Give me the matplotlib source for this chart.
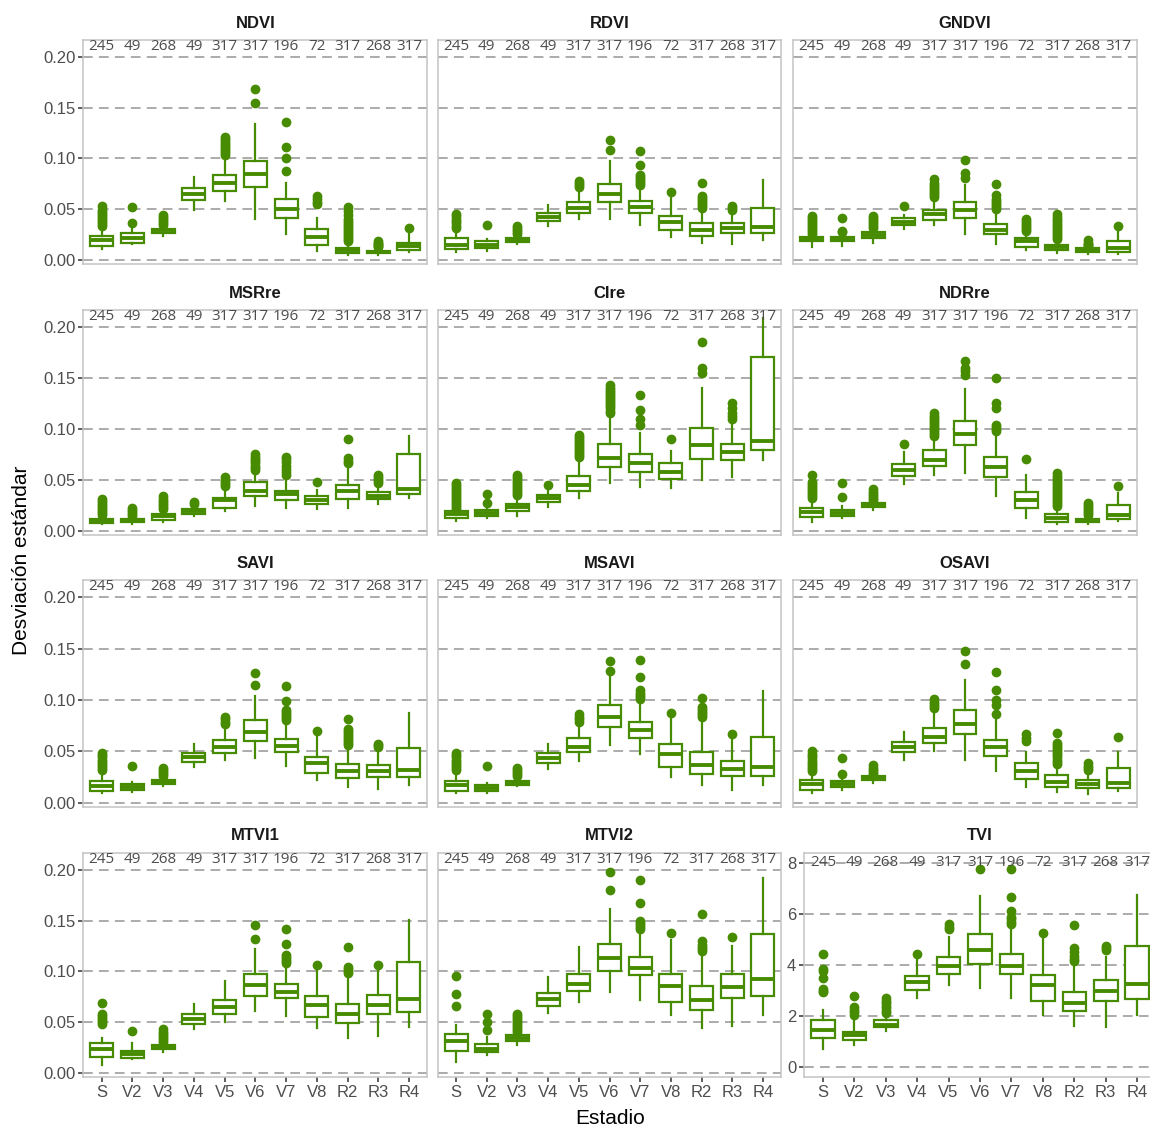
import matplotlib.pyplot as plt

plt.rcParams['font.family'] = ['Liberation Sans', 'DejaVu Sans']

#stages and number of observations per stage (same for every index)
estadios = ["S", "V2", "V3", "V4", "V5", "V6", "V7", "V8", "R2", "R3", "R4"]
n_obs = [245, 49, 268, 49, 317, 317, 196, 72, 317, 268, 317]

#box stats per stage: [whisker low, q1, median, q3, whisker high]
ndvi_box = [[.011, .014, .019, .023, .031], [.016, .017, .021, .026, .030], [.023, .026, .029, .030, .032],
            [.049, .059, .065, .071, .082], [.058, .068, .076, .084, .101], [.040, .072, .085, .097, .134],
            [.025, .041, .050, .060, .076], [.009, .015, .022, .030, .041], [.005, .007, .010, .012, .017],
            [.005, .007, .008, .009, .012], [.008, .010, .0135, .017, .025]]
ndvi_out = [[.033, .035, .037, .039, .041, .043, .045, .047, .049, .053], [.036, .052],
            [.034, .036, .038, .040, .042, .044], [],
            [.103, .105, .107, .109, .111, .113, .115, .117, .119, .121], [.155, .168],
            [.088, .100, .111, .136], [.055, .057, .060, .063],
            [.018, .020, .022, .024, .026, .028, .030, .032, .034, .036, .038, .040, .044, .048, .052],
            [.013, .014, .015, .016, .017, .018], [.031]]

rdvi_box = [[.008, .011, .015, .021, .029], [.009, .0115, .0145, .018, .020], [.016, .0175, .019, .021, .023],
            [.033, .038, .042, .046, .054], [.040, .046, .051, .057, .070], [.040, .057, .065, .075, .097],
            [.034, .046, .0525, .058, .072], [.022, .029, .037, .043, .061], [.017, .023, .029, .036, .049],
            [.016, .026, .031, .036, .047], [.019, .026, .032, .051, .079]]
rdvi_out = [[.031, .033, .036, .038, .040, .043, .045], [.034], [.025, .027, .029, .031, .033], [],
            [.072, .074, .076, .078], [.108, .118],
            [.074, .076, .078, .080, .082, .084, .093, .107], [.067],
            [.051, .053, .055, .057, .059, .061, .063, .076], [.049, .051, .053], []]

gndvi_box = [[.013, .018, .020, .022, .024], [.014, .018, .020, .022, .024], [.017, .021, .024, .027, .029],
             [.030, .034, .037, .041, .044], [.034, .039, .045, .049, .061], [.025, .041, .049, .057, .074],
             [.016, .025, .0295, .035, .047], [.010, .013, .018, .021, .026], [.007, .010, .0125, .015, .018],
             [.006, .008, .0098, .0115, .013], [.006, .008, .0115, .018, .028]]
gndvi_out = [[.025, .027, .029, .031, .033, .035, .037, .039, .041, .043], [.027, .028, .041],
             [.031, .033, .035, .037, .039, .041, .043], [.053],
             [.062, .064, .066, .068, .070, .072, .074, .076, .080], [.081, .086, .098],
             [.050, .052, .054, .056, .058, .060, .064, .075], [.028, .030, .032, .034, .036, .038, .040],
             [.020, .022, .024, .026, .028, .030, .032, .034, .036, .038, .040, .042, .045],
             [.014, .015, .016, .017, .019], [.033]]

msrre_box = [[.0066, .0076, .0095, .0116, .014], [.0066, .0083, .0099, .0116, .013], [.009, .011, .014, .016, .020],
             [.014, .016, .019, .0215, .024], [.019, .0225, .030, .0324, .041], [.024, .034, .039, .048, .058],
             [.0225, .030, .036, .039, .050], [.0215, .026, .030, .034, .040], [.0225, .031, .039, .045, .061],
             [.026, .031, .034, .038, .045], [.032, .036, .041, .075, .093]]
msrre_out = [[.015, .017, .019, .021, .023, .025, .027, .029, .031], [.014, .016, .018, .020, .022],
             [.021, .023, .025, .027, .029, .031, .034], [.026, .028], [.044, .046, .048, .050, .053],
             [.060, .062, .064, .066, .068, .070, .072, .075], [.055, .058, .061, .064, .067, .070, .072],
             [.048], [.066, .068, .071, .090], [.047, .049, .051, .053, .055], []]

cire_box = [[.010, .012, .016, .019, .020], [.012, .014, .017, .020, .022], [.014, .019, .023, .026, .033],
            [.023, .028, .032, .035, .040], [.032, .039, .045, .054, .069], [.047, .0625, .071, .085, .114],
            [.043, .058, .066, .075, .096], [.042, .051, .058, .066, .078], [.050, .070, .084, .101, .140],
            [.053, .069, .077, .085, .107], [.069, .079, .088, .171, .209]]
cire_out = [[.021, .023, .025, .027, .029, .031, .033, .035, .037, .039, .041, .043, .045, .047], [.027, .036],
            [.035, .037, .039, .041, .043, .045, .047, .049, .051, .053, .055], [.045],
            [.072, .074, .076, .078, .080, .082, .084, .086, .088, .090, .092, .094],
            [.116, .118, .120, .122, .124, .126, .128, .130, .132, .134, .136, .138, .140, .143],
            [.104, .110, .119, .133], [.090], [.155, .160, .185], [.110, .113, .116, .120, .125], []]

ndrre_box = [[.009, .013, .018, .022, .030], [.012, .014, .0175, .0205, .024], [.020, .023, .025, .027, .029],
             [.046, .054, .0595, .0655, .077], [.055, .064, .069, .079, .089], [.057, .084, .095, .108, .139],
             [.034, .053, .063, .072, .094], [.012, .022, .030, .038, .055], [.0066, .0086, .0126, .0165, .0225],
             [.0066, .0086, .010, .0116, .013], [.010, .0116, .015, .025, .037]]
ndrre_out = [[.032, .034, .036, .038, .040, .042, .044, .046, .048, .055], [.033, .047],
             [.030, .032, .034, .036, .038, .041], [.085],
             [.093, .095, .097, .099, .101, .103, .105, .107, .109, .111, .113, .116], [.153, .157, .160, .167],
             [.098, .100, .102, .104, .120, .125, .150], [.070],
             [.024, .026, .028, .030, .032, .034, .036, .038, .040, .042, .044, .046, .048, .050, .052, .054, .057],
             [.015, .017, .019, .021, .023, .025, .027], [.044]]

savi_box = [[.009, .0115, .0165, .021, .030], [.010, .012, .0155, .018, .020], [.016, .018, .020, .022, .025],
            [.035, .040, .044, .048, .057], [.042, .048, .054, .061, .074], [.043, .060, .0685, .080, .104],
            [.036, .049, .055, .062, .077], [.022, .029, .0385, .0445, .069], [.0155, .024, .031, .038, .053],
            [.013, .025, .031, .037, .052], [.0175, .025, .032, .053, .087]]
savi_out = [[.032, .034, .036, .038, .040, .042, .044, .046, .048], [.036], [.026, .028, .030, .032, .034], [],
            [.077, .079, .081, .083], [.115, .126], [.080, .082, .084, .086, .088, .090, .099, .114], [.070],
            [.056, .058, .060, .062, .064, .066, .068, .070, .072, .081], [.054, .056, .057], []]

msavi_box = [[.009, .0115, .017, .021, .029], [.009, .0115, .014, .017, .019], [.016, .0175, .0195, .021, .024],
             [.033, .0385, .043, .048, .057], [.041, .049, .054, .063, .076], [.056, .0735, .083, .0946, .125],
             [.047, .063, .071, .079, .0998], [.025, .035, .047, .057, .084], [.017, .028, .037, .049, .081],
             [.0125, .026, .033, .0405, .061], [.017, .026, .035, .064, .109]]
msavi_out = [[.032, .034, .036, .038, .040, .042, .044, .046, .048], [.036], [.026, .028, .030, .032, .034], [],
             [.079, .081, .083, .086], [.128, .138], [.101, .103, .105, .107, .110, .122, .139], [.087],
             [.083, .085, .087, .089, .091, .093, .102], [.067], []]

osavi_box = [[.009, .0125, .018, .022, .030], [.012, .015, .018, .021, .022], [.019, .022, .024, .0257, .027],
             [.042, .049, .054, .059, .069], [.050, .058, .064, .073, .089], [.042, .067, .077, .090, .119],
             [.031, .0455, .054, .061, .082], [.015, .023, .031, .0385, .049], [.0105, .015, .020, .027, .036],
             [.008, .014, .018, .022, .030], [.011, .014, .019, .034, .049]]
osavi_out = [[.031, .033, .035, .037, .039, .041, .043, .045, .047, .050], [.028, .043],
             [.028, .030, .032, .034, .037], [], [.092, .094, .096, .098, .101], [.135, .148],
             [.086, .095, .100, .110, .127], [.060, .063, .067],
             [.038, .040, .042, .044, .046, .048, .050, .052, .054, .056, .058, .068],
             [.032, .034, .036, .039], [.064]]

mtvi1_box = [[.008, .016, .023, .029, .0345], [.014, .015, .018, .021, .029], [.020, .023, .025, .027, .029],
             [.043, .048, .053, .058, .068], [.050, .058, .065, .072, .0905], [.061, .076, .0865, .097, .122],
             [.056, .074, .0796, .088, .107], [.044, .055, .067, .076, .100], [.0345, .049, .0576, .068, .0954],
             [.036, .058, .067, .077, .100], [.045, .060, .073, .109, .151]]
mtvi1_out = [[.048, .050, .052, .054, .056, .058, .069], [.041], [.030, .032, .034, .036, .038, .040, .043],
             [], [], [.132, .146], [.108, .110, .112, .114, .116, .127, .142], [.106],
             [.098, .100, .102, .104, .124], [.106], []]

mtvi2_box = [[.011, .021, .031, .038, .047], [.0175, .020, .0234, .028, .0356], [.027, .031, .034, .037, .039],
             [.059, .066, .073, .0785, .094], [.070, .081, .0875, .097, .124], [.080, .100, .113, .127, .161],
             [.072, .096, .103, .114, .140], [.057, .070, .086, .097, .131], [.044, .062, .072, .086, .118],
             [.046, .074, .085, .097, .125], [.057, .076, .092, .137, .192]]
mtvi2_out = [[.066, .078, .095], [.042, .050, .058], [.040, .042, .044, .046, .048, .050, .052, .054, .056, .058],
             [], [], [.180, .198], [.142, .144, .146, .148, .150, .167, .190], [.138],
             [.120, .122, .124, .126, .130, .157], [.134], []]

tvi_box = [[.72, 1.12, 1.47, 1.86, 2.25], [.88, 1.05, 1.24, 1.39, 1.8], [1.4, 1.57, 1.66, 1.85, 2.0],
           [2.7, 3.03, 3.32, 3.58, 4.2], [3.22, 3.65, 3.97, 4.33, 5.11], [3.1, 4.04, 4.59, 5.21, 6.7],
           [2.7, 3.65, 3.97, 4.43, 5.47], [2.05, 2.57, 3.22, 3.6, 5.0], [1.6, 2.18, 2.5, 2.96, 3.94],
           [1.57, 2.57, 3.0, 3.42, 4.33], [2.05, 2.68, 3.26, 4.76, 6.74]]
tvi_out = [[2.95, 3.0, 3.05, 3.5, 3.75, 3.85, 4.45], [2.05, 2.15, 2.25, 2.35, 2.8],
           [2.1, 2.2, 2.3, 2.4, 2.5, 2.6, 2.7], [4.42], [5.4, 5.5, 5.6], [7.75],
           [5.6, 5.7, 5.8, 5.9, 6.1, 6.65, 7.75], [5.27], [4.15, 4.25, 4.35, 4.5, 4.65, 5.55],
           [4.6, 4.65, 4.75], []]

panels = [("NDVI", ndvi_box, ndvi_out), ("RDVI", rdvi_box, rdvi_out), ("GNDVI", gndvi_box, gndvi_out),
          ("MSRre", msrre_box, msrre_out), ("CIre", cire_box, cire_out), ("NDRre", ndrre_box, ndrre_out),
          ("SAVI", savi_box, savi_out), ("MSAVI", msavi_box, msavi_out), ("OSAVI", osavi_box, osavi_out),
          ("MTVI1", mtvi1_box, mtvi1_out), ("MTVI2", mtvi2_box, mtvi2_out), ("TVI", tvi_box, tvi_out)]

verde = "#468B00"
gris = "#4D4D4D"
W, H = 1150, 1128

fig = plt.figure(figsize=(W / 100, H / 100), dpi=100)

#panel positions in pixels (left, right) and (top, bottom)
cols = [(83.3, 427.4), (437.6, 781.4), (793.3, 1136.7)]
rows = [(40, 264), (310, 535), (580, 807), (853, 1077)]


def draw_panel(ax, name, box, out, yticks, ylim, label_y, show_y, show_x):
    stats = []
    for b, o in zip(box, out):
        stats.append(dict(whislo=b[0], q1=b[1], med=b[2], q3=b[3], whishi=b[4], fliers=o))
    ax.bxp(stats, positions=range(1, 12), widths=0.75, patch_artist=True, showcaps=False,
           boxprops=dict(facecolor="white", edgecolor=verde, linewidth=1.6),
           whiskerprops=dict(color=verde, linewidth=1.6),
           medianprops=dict(color=verde, linewidth=2.8, solid_capstyle="butt"),
           flierprops=dict(marker="o", markerfacecolor=verde, markeredgecolor=verde, markersize=6))
    ax.set_xlim(0.4, 11.6)
    ax.set_ylim(*ylim)
    ax.set_yticks(yticks)
    ax.grid(axis="y", color="#ABABAB", linewidth=1.4, linestyle=(0, (5, 3.2)))
    ax.set_axisbelow(True)
    for s in ax.spines.values():
        s.set_color("#C4C4C4")
        s.set_linewidth(1.1)
    #counts on top
    for i, n in enumerate(n_obs):
        ax.text(i + 1, label_y, str(n), ha="center", va="center", fontsize=11,
                color=gris, family="Open Sans")
    ax.set_xticks(range(1, 12))
    ax.set_xticklabels(estadios)
    ax.tick_params(axis="y", length=3.6, width=1.1, color="#333333", labelsize=12,
                   labelcolor=gris, left=show_y, labelleft=show_y, pad=2)
    ax.tick_params(axis="x", length=3.6, width=1.1, color="#333333", labelsize=12,
                   labelcolor=gris, bottom=show_x, labelbottom=show_x, pad=2)


yt = [0, 0.05, 0.10, 0.15, 0.20]
for k, (name, box, out) in enumerate(panels):
    r, c = divmod(k, 3)
    top, bot = rows[r]
    if name == "TVI":
        left, right = 804, 1156
        ylim = (-0.39, 8.39)
        ticks = [0, 2, 4, 6, 8]
        lab_y = 8
        show_y = True
    else:
        left, right = cols[c]
        ylim = (-0.0042, 0.2167)
        ticks = yt
        lab_y = 0.21
        show_y = c == 0
    ax = fig.add_axes([left / W, 1 - bot / H, (right - left) / W, (bot - top) / H])
    draw_panel(ax, name, box, out, ticks, ylim, lab_y, show_y, r == 3)
    if name != "TVI":
        ax.set_yticklabels([f"{v:.2f}" for v in ticks])
    else:
        ax.set_yticklabels([str(v) for v in ticks])
    fig.text((left + right) / 2 / W, 1 - (top - 17) / H, name, ha="center", va="center",
             fontsize=12, fontweight="bold", color="#1A1A1A")

fig.text(22 / W, 1 - 560 / H, "Desviación estándar", rotation=90, ha="center", va="center",
         fontsize=15, color="black")
fig.text(610 / W, 1 - 1118 / H, "Estadio", ha="center", va="center", fontsize=15, color="black")

fig.savefig("out.png", dpi=100)
